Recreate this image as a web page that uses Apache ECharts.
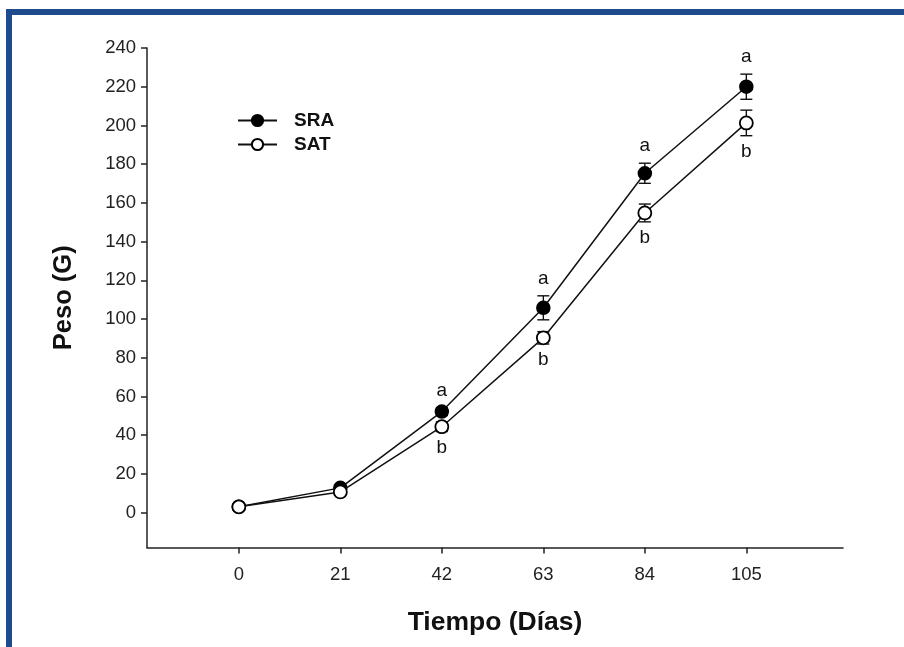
<!DOCTYPE html>
<html>
<head>
<meta charset="utf-8">
<style>
html,body{margin:0;padding:0;background:#fff;}
#chart{width:904px;height:647px;}
</style>
<script src="https://cdn.jsdelivr.net/npm/echarts@6/dist/echarts.min.js"></script>
</head>
<body>
<div id="chart"></div>
<script>
var days = [0, 21, 42, 63, 84, 105];
var sraMean = [3, 12.8, 52.2, 105.8, 175.3, 220];
var sraErr  = [0, 0, 2, 6.2, 5.2, 6.5];
var satMean = [3, 10.7, 44.4, 90.3, 154.8, 201.3];
var satErr  = [0, 0, 2.5, 3.2, 4.6, 6.6];
var sraLetters = ['', '', 'a', 'a', 'a', 'a'];
var satLetters = ['', '', 'b', 'b', 'b', 'b'];
var yTicks = [0, 20, 40, 60, 80, 100, 120, 140, 160, 180, 200, 220, 240];
var xTicks = [0, 21, 42, 63, 84, 105];

var chart = echarts.init(document.getElementById('chart'), null, {renderer: 'canvas'});

function pairs(x, y) { return x.map(function (v, i) { return [v, y[i]]; }); }
function errData(x, m, e) { return x.map(function (v, i) { return [v, m[i] - e[i], m[i] + e[i]]; }); }

function errRender(params, api) {
  var x = api.value(0), lo = api.value(1), hi = api.value(2);
  if (hi - lo <= 0) return null;
  var pLo = api.coord([x, lo]), pHi = api.coord([x, hi]);
  var cap = 6;
  var st = {stroke: '#111', lineWidth: 1.4};
  return {type: 'group', children: [
    {type: 'line', shape: {x1: pLo[0], y1: pLo[1], x2: pHi[0], y2: pHi[1]}, style: st},
    {type: 'line', shape: {x1: pLo[0] - cap, y1: pLo[1], x2: pLo[0] + cap, y2: pLo[1]}, style: st},
    {type: 'line', shape: {x1: pHi[0] - cap, y1: pHi[1], x2: pHi[0] + cap, y2: pHi[1]}, style: st}
  ]};
}

function letterRender(letters, above) {
  return function (params, api) {
    var i = params.dataIndex;
    var t = letters[i];
    if (!t) return null;
    var p = api.coord([api.value(0), api.value(1)]);
    return {type: 'text', x: p[0], y: p[1] + (above ? -17 : 16),
      style: {text: t, fill: '#111', font: '19px "Liberation Sans", Arial, sans-serif',
        align: 'center', verticalAlign: 'middle'}};
  };
}

var sraLetterPos = days.map(function (d, i) { return [d, sraMean[i] + sraErr[i]]; });
var satLetterPos = days.map(function (d, i) { return [d, satMean[i] - satErr[i]]; });

var option = {
  animation: false,
  backgroundColor: '#fff',
  textStyle: {fontFamily: '"Liberation Sans", Arial, sans-serif'},
  grid: {left: 147, right: 904 - 843, top: 48, bottom: 647 - 547.5, containLabel: false},
  xAxis: {
    type: 'value', min: -19, max: 125,
    splitLine: {show: false},
    axisLine: {show: true, onZero: false, lineStyle: {color: '#222', width: 1.5}},
    axisTick: {show: true, length: 6, lineStyle: {color: '#222', width: 1.5}, customValues: xTicks},
    axisLabel: {color: '#222', fontSize: 18.5, margin: 18, customValues: xTicks,
      fontFamily: '"Liberation Sans", Arial, sans-serif'},
    name: 'Tiempo (Días)', nameLocation: 'middle', nameGap: 62,
    nameTextStyle: {fontSize: 26.5, fontWeight: 'bold', color: '#111',
      fontFamily: '"Liberation Sans", Arial, sans-serif'}
  },
  yAxis: {
    type: 'value', min: -18, max: 240,
    splitLine: {show: false},
    axisLine: {show: true, onZero: false, lineStyle: {color: '#222', width: 1.5}},
    axisTick: {show: true, length: 6, lineStyle: {color: '#222', width: 1.5}, customValues: yTicks},
    axisLabel: {color: '#222', fontSize: 18.5, margin: 11, customValues: yTicks,
      fontFamily: '"Liberation Sans", Arial, sans-serif'},
    name: 'Peso (G)', nameLocation: 'middle', nameGap: 70, nameRotate: 90,
    nameTextStyle: {fontSize: 25.5, fontWeight: 'bold', color: '#111',
      fontFamily: '"Liberation Sans", Arial, sans-serif'}
  },
  legend: {
    left: 232, top: 106, orient: 'vertical', itemWidth: 39, itemHeight: 14, itemGap: 5,
    data: ['SRA', 'SAT'],
    textStyle: {fontSize: 19, fontWeight: 'bold', color: '#111', padding: [0, 0, 0, 12],
      fontFamily: '"Liberation Sans", Arial, sans-serif'}
  },
  series: [
    {type: 'custom', name: 'errSRA', renderItem: errRender, data: errData(days, sraMean, sraErr), z: 1, silent: true},
    {type: 'custom', name: 'errSAT', renderItem: errRender, data: errData(days, satMean, satErr), z: 1, silent: true},
    {type: 'line', name: 'SRA', data: pairs(days, sraMean), symbol: 'circle', symbolSize: 13,
      lineStyle: {color: '#111', width: 1.5}, itemStyle: {color: '#000', borderColor: '#000', borderWidth: 1.5}, z: 3},
    {type: 'line', name: 'SAT', data: pairs(days, satMean), symbol: 'circle', symbolSize: 13,
      lineStyle: {color: '#111', width: 1.5}, itemStyle: {color: '#fff', borderColor: '#000', borderWidth: 1.8}, z: 4},
    {type: 'custom', name: 'letA', renderItem: letterRender(sraLetters, true), data: sraLetterPos, z: 5, silent: true},
    {type: 'custom', name: 'letB', renderItem: letterRender(satLetters, false), data: satLetterPos, z: 5, silent: true}
  ],
  graphic: [
    {type: 'rect', shape: {x: 9, y: 12, width: 1000, height: 1000},
      style: {fill: 'none', stroke: '#1d4b8c', lineWidth: 6}, z: 100}
  ]
};
chart.setOption(option);
</script>
</body>
</html>
